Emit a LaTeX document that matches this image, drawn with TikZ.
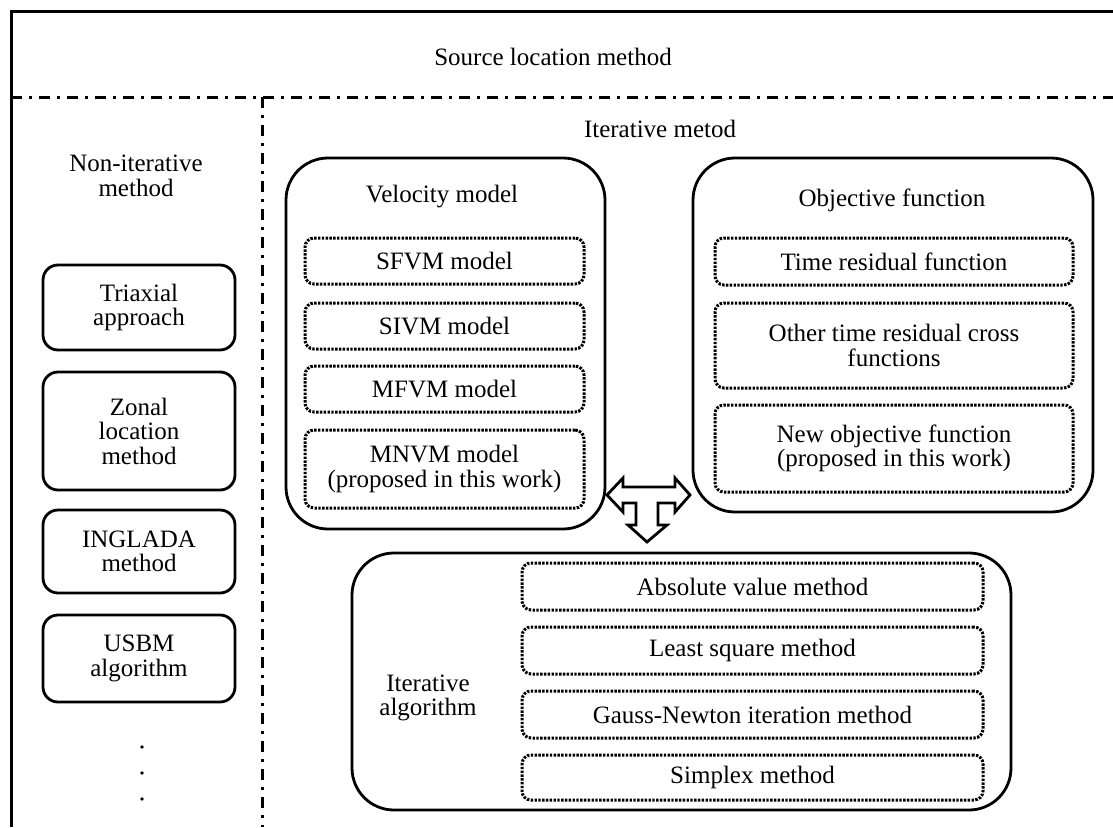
\documentclass[tikz,border=0pt]{standalone}
\usepackage{fontspec}
\setmainfont{Liberation Serif}
\begin{document}
\begin{tikzpicture}[x=1pt,y=-1pt,
  every node/.style={font=\fontsize{25}{24.5}\selectfont, inner sep=0pt, align=center},
  smallbox/.style={draw, line width=2.8pt, rounded corners=15pt},
  bigbox/.style={draw, line width=2.8pt, rounded corners=42pt},
  dotbox/.style={draw, line width=3pt, rounded corners=9pt, dash pattern=on 2.4pt off 1.4pt},
  dashdotline/.style={line width=3pt, dash pattern=on 11pt off 7pt on 3pt off 7pt},
  tarrow/.style={draw, line width=2.8pt, line join=miter}]
\useasboundingbox (0,0) rectangle (1113,827);
\fill[white] (0,0) rectangle (1113,827);

% outer frame and separators
\draw[line width=3pt] (11,827) -- (11,11) -- (1113,11);
\draw[dashdotline] (11,97) -- (1113,97);
\draw[dashdotline] (262,97) -- (262,827);

\node (title) at (553,57) {Source location method};
\node (iter) at (660,129) {Iterative metod};
\node (noniter) at (136,176) {Non-iterative\\method};

% non-iterative boxes
\node[smallbox, minimum width=192pt, minimum height=85pt] (tri) at (139,307.5) {Triaxial\\approach};
\node[smallbox, minimum width=192pt, minimum height=118pt] (zon) at (139,431) {Zonal\\location\\method};
\node[smallbox, minimum width=192pt, minimum height=83pt] (ing) at (139,551.5) {INGLADA\\method};
\node[smallbox, minimum width=192pt, minimum height=87pt] (usbm) at (139,658.5) {USBM\\algorithm};
\foreach \yy in {747,773,799} \fill (142,\yy) circle (1.8pt);

% velocity model
\node[bigbox, minimum width=319pt, minimum height=371pt] (vel) at (445.5,343.5) {};
\node (veltitle) at (442,197) {Velocity model};
\node[dotbox, minimum width=279pt, minimum height=46pt] (sfvm) at (444.5,261) {SFVM model};
\node[dotbox, minimum width=279pt, minimum height=46pt] (sivm) at (444.5,326) {SIVM model};
\node[dotbox, minimum width=279pt, minimum height=46pt] (mfvm) at (444.5,389) {MFVM model};
\node[dotbox, minimum width=279pt, minimum height=78pt] (mnvm) at (444.5,469) {MNVM model\\(proposed in this work)};

% objective function
\node[bigbox, minimum width=400pt, minimum height=354pt] (obj) at (893,335) {};
\node (objtitle) at (892,200) {Objective function};
\node[dotbox, minimum width=358pt, minimum height=47pt] (trf) at (894,261.5) {Time residual function};
\node[dotbox, minimum width=358pt, minimum height=85pt] (other) at (894,345.5) {Other time residual cross\\functions};
\node[dotbox, minimum width=358pt, minimum height=87pt] (newobj) at (894,448.5) {New objective function\\(proposed in this work)};

% iterative algorithm
\node[bigbox, minimum width=659pt, minimum height=257pt] (alg) at (681.5,681.5) {};
\node (algtitle) at (428,698) {Iterative\\algorithm};
\node[dotbox, minimum width=461pt, minimum height=47pt] (abs) at (752.5,586.5) {Absolute value method};
\node[dotbox, minimum width=461pt, minimum height=47pt] (lsq) at (752.5,650.5) {Least square method};
\node[dotbox, minimum width=461pt, minimum height=47pt] (gn) at (752.5,714.5) {Gauss-Newton iteration method};
\node[dotbox, minimum width=461pt, minimum height=45pt] (smp) at (752.5,777.5) {Simplex method};

% T-shaped arrow
\draw[tarrow] (607,495) -- (623,478) -- (623,487) -- (675,487) -- (675,478) -- (690,495)
  -- (675,512) -- (675,503) -- (658,503) -- (658,525) -- (667,525) -- (647,542)
  -- (628,525) -- (636,525) -- (636,503) -- (623,503) -- (623,512) -- cycle;
\end{tikzpicture}
\end{document}
